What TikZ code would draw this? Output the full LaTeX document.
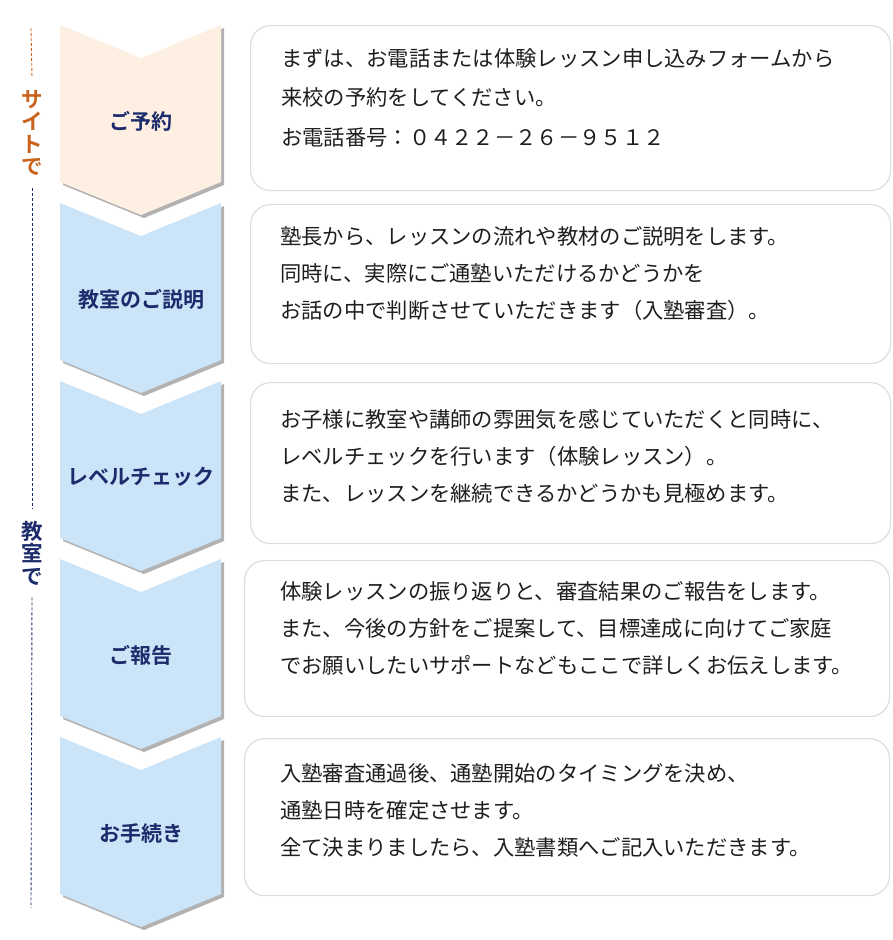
\documentclass[tikz,border=0pt]{standalone}
\usepackage{fontspec}
\newfontfamily\jpfont[BoldFont={Noto Sans CJK JP Bold}]{Noto Sans CJK JP}
\usetikzlibrary{shadows}

\definecolor{peach}{HTML}{FDEFE1}
\definecolor{paleblue}{HTML}{CCE4F8}
\definecolor{navy}{HTML}{1B2B6B}
\definecolor{rust}{HTML}{C9631C}
\definecolor{boxline}{HTML}{DDDDDD}
\definecolor{ink}{HTML}{1E1E1E}

\tikzset{
    chevron/.style={draw=none, drop shadow={shadow xshift=3pt, shadow yshift=-3pt, opacity=0.3, fill=black}},
    steplabel/.style={font=\jpfont\bfseries\fontsize{21}{24}\selectfont, text=navy},
    infobox/.style={draw=boxline, line width=1.2pt, rounded corners=20pt, fill=white},
    infotext/.style={anchor=base west, align=left, inner sep=0pt, text=ink, font=\jpfont\fontsize{21.3}{37}\selectfont},
    sidelabel/.style={align=center, inner xsep=0pt, inner ysep=12pt, font=\jpfont\bfseries\fontsize{21.5}{22.5}\selectfont},
}

\begin{document}
\begin{tikzpicture}[x=1pt,y=-1pt]
        \useasboundingbox (0,0) rectangle (892,940);

        % Draw chevrons
        \foreach \i/\t/\col/\lbl in {1/25/peach/ご予約, 2/203/paleblue/教室のご説明, 3/381/paleblue/レベルチェック, 4/559/paleblue/ご報告, 5/737/paleblue/お手続き}
           {
                \fill[chevron, fill=\col] (60,\t) -- (141,\t+33) -- (221,\t) -- (221,\t+157)
                    -- (141,\t+190) -- (60,\t+157) -- cycle;
                \node[steplabel] (step\i) at (141,\t+96) {\lbl};
           }

        % Draw text boxes
        \node[infobox, minimum width=640pt, minimum height=165pt, anchor=north west] (box1) at (250,25) {};
        \node[infobox, minimum width=640pt, minimum height=159pt, anchor=north west] (box2) at (250,204) {};
        \node[infobox, minimum width=640pt, minimum height=161pt, anchor=north west] (box3) at (250,382) {};
        \node[infobox, minimum width=645pt, minimum height=156pt, anchor=north west] (box4) at (244,560) {};
        \node[infobox, minimum width=645pt, minimum height=157pt, anchor=north west] (box5) at (244,738) {};

        % text placed by the baseline of its last line
        \node[infotext, font=\jpfont\fontsize{21.3}{39.5}\selectfont] (txt1) at (281,145)
            {まずは、お電話または体験レッスン申し込みフォームから\\来校の予約をしてください。\\お電話番号：０４２２－２６－９５１２};
        \node[infotext] (txt2) at (280,318)
            {塾長から、レッスンの流れや教材のご説明をします。\\同時に、実際にご通塾いただけるかどうかを\\お話の中で判断させていただきます（入塾審査）。};
        \node[infotext] (txt3) at (280,501)
            {お子様に教室や講師の雰囲気を感じていただくと同時に、\\レベルチェックを行います（体験レッスン）。\\また、レッスンを継続できるかどうかも見極めます。};
        \node[infotext] (txt4) at (280,673)
            {体験レッスンの振り返りと、審査結果のご報告をします。\\また、今後の方針をご提案して、目標達成に向けてご家庭\\でお願いしたいサポートなどもここで詳しくお伝えします。};
        \node[infotext] (txt5) at (280,855)
            {入塾審査通過後、通塾開始のタイミングを決め、\\通塾日時を確定させます。\\全て決まりましたら、入塾書類へご記入いただきます。};

        % Side labels
        \node[sidelabel, text=rust] (site) at (32,133) {サ\\イ\\ト\\で};
        \node[sidelabel, text=navy] (room) at (32,553) {教\\室\\で};
        \coordinate (sitetop) at (31,28);
        \coordinate (roombot) at (31,908);

        \draw[rust, densely dashed, line width=0.9pt] (sitetop) -- (site.north);
        \draw[navy, densely dashed, line width=0.9pt] (site.south) -- (room.north);
        \draw[navy, densely dashed, line width=0.9pt] (room.south) -- (roombot);
    \end{tikzpicture}
\end{document}
